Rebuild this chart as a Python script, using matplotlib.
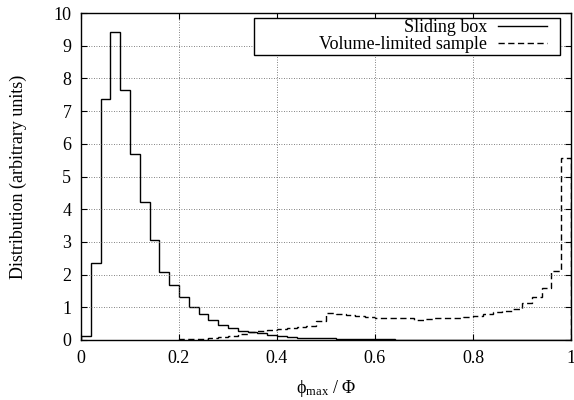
import numpy as np
import matplotlib
matplotlib.use('Agg')
import matplotlib.pyplot as plt
from matplotlib.patches import Rectangle

plt.rcParams['font.family'] = ['Liberation Serif', 'DejaVu Serif']
plt.rcParams['mathtext.fontset'] = 'custom'
plt.rcParams['mathtext.rm'] = 'Liberation Serif'
plt.rcParams['mathtext.it'] = 'Liberation Serif:italic'

# bin edges: 50 bins of width 0.02 on [0, 1]
edges = np.linspace(0., 1., 51)

# sliding box distribution
sliding = [0.13, 2.34, 7.37, 9.41, 7.65, 5.68, 4.22, 3.06, 2.09, 1.69,
           1.33, 1.01, 0.81, 0.62, 0.47, 0.38, 0.29, 0.23, 0.20, 0.14,
           0.11, 0.09, 0.07, 0.06, 0.05, 0.05, 0.04, 0.03, 0.03, 0.02,
           0.02, 0.02, 0.01, 0.01, 0.01, 0.01, 0.01, 0.01, 0.01, 0.0,
           0.0, 0.0, 0.0, 0.0, 0.0, 0.0, 0.0, 0.0, 0.0, 0.0]

# volume-limited sample (starts at 0.2)
vol_start = 10
vol_lim = [0.02, 0.02, 0.03, 0.05, 0.08, 0.12, 0.18, 0.24, 0.27, 0.31,
           0.35, 0.37, 0.39, 0.42, 0.57, 0.82, 0.80, 0.77, 0.72, 0.69,
           0.68, 0.67, 0.67, 0.67, 0.62, 0.65, 0.67, 0.67, 0.68, 0.69,
           0.73, 0.79, 0.85, 0.89, 0.94, 1.12, 1.32, 1.58, 2.12, 5.58]

xticks = [0, 0.2, 0.4, 0.6, 0.8, 1.0]
xticklabels = ['0', '0.2', '0.4', '0.6', '0.8', '1']
yticks = list(range(11))

fig = plt.figure(figsize=(5.74, 4.0), dpi=100)
ax = fig.add_axes([81/574, 1-340/400, 490/574, 327/400])

ax.stairs(sliding, edges, color='black', lw=1.0, label='Sliding box')
ax.stairs(vol_lim, edges[vol_start:], color='black', lw=1.0,
          linestyle=(0, (4.5, 2.5)), label='Volume-limited sample')

ax.set_xlim(0, 1)
ax.set_ylim(0, 10)
ax.set_xticks(xticks)
ax.set_xticklabels(xticklabels)
ax.set_yticks(yticks)
ax.tick_params(direction='in', length=4.5, width=0.8, top=True, right=True,
               labelsize=13, pad=7)
ax.grid(True, linestyle=(0, (1, 2)), color='0.35', lw=0.6)
for s in ax.spines.values():
    s.set_linewidth(1.0)

ax.set_xlabel(r'$\mathrm{\phi_{max}}$ / $\mathrm{\Phi}$', fontsize=13, labelpad=8)
ax.set_ylabel('Distribution (arbitrary units)', fontsize=13, labelpad=19)

# gnuplot-like key: right-aligned text, wide box
leg = ax.legend(loc='upper right', bbox_to_anchor=(0.951, 0.982), fontsize=13,
                markerfirst=False, frameon=False,
                handlelength=2.7, handletextpad=0.6, labelspacing=0.0,
                borderpad=0, borderaxespad=0)
ax.add_patch(Rectangle((0.353, 0.872), 0.625, 0.113, transform=ax.transAxes,
                       facecolor='white', edgecolor='black', lw=1.0, zorder=4.9))
leg.set_zorder(5)

fig.savefig('out.png', dpi=100)
